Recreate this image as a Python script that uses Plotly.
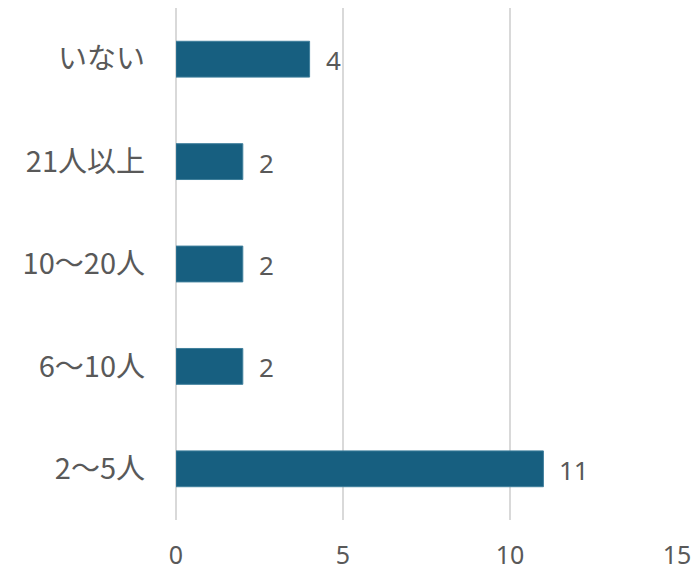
import plotly.graph_objects as go

# 人数区分 (bottom to top) and number of responses
categories = ["2〜5人", "6〜10人", "10〜20人", "21人以上", "いない"]
counts = [11, 2, 2, 2, 4]
x_ticks = [0, 5, 10, 15]

bar_color = "#175f80"
text_color = "#595959"
grid_color = "#d9d9d9"
cjk_font = "'Noto Sans CJK JP', sans-serif"
num_font = "'Noto Sans', sans-serif"

fig = go.Figure()
fig.add_trace(go.Bar(
    y=categories,
    x=counts,
    orientation="h",
    width=0.35,
    marker=dict(color=bar_color, line=dict(color="#3f7f9c", width=1)),
    hoverinfo="x+y",
))

# value labels to the right of each bar
for cat, val in zip(categories, counts):
    fig.add_annotation(
        x=val, y=cat, text=str(val), showarrow=False,
        xanchor="left", yanchor="middle", xshift=14, yshift=-1,
        font=dict(size=26, color=text_color, family=num_font),
    )

fig.update_layout(
    width=700, height=575,
    margin=dict(l=176, r=23, t=8, b=55, autoexpand=False),
    paper_bgcolor="white",
    plot_bgcolor="white",
    showlegend=False,
    font=dict(family=cjk_font, color=text_color, size=26),
    xaxis=dict(
        range=[0, 15],
        tickvals=x_ticks,
        showgrid=True, gridcolor=grid_color, gridwidth=2,
        zeroline=True, zerolinecolor=grid_color, zerolinewidth=2,
        showline=False, automargin=False,
        ticks="", ticklabelstandoff=18,
        tickfont=dict(size=25, color=text_color, family=num_font),
        fixedrange=True,
    ),
    yaxis=dict(
        categoryorder="array", categoryarray=categories,
        showgrid=False, zeroline=False, showline=False, automargin=False,
        ticks="", ticklabelstandoff=30,
        tickfont=dict(size=29, color=text_color, family=cjk_font),
        range=[-0.5, 4.5],
        fixedrange=True,
    ),
)

fig.write_html("out.html")
